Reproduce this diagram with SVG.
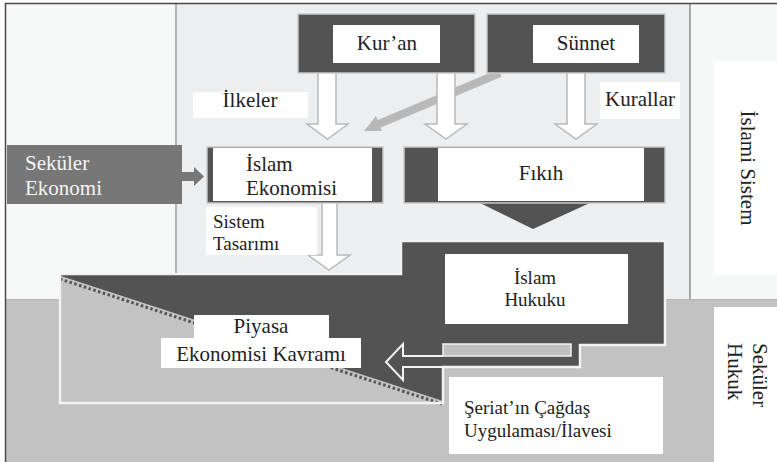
<svg xmlns="http://www.w3.org/2000/svg" width="777" height="462" viewBox="0 0 777 462">
<style>
  text{font-family:'Liberation Serif','Tinos','Times New Roman','DejaVu Serif',serif}
  .t{font-size:21px;fill:#222}
  .s{font-size:19px;fill:#222}
  .tw{font-size:21px;fill:#f4f4f4}
  .dark{fill:#535353;stroke:#c9c9c9;stroke-width:1.5}
  .lbl{fill:#ffffff}
  .hollow{fill:#ffffff;stroke:#b9b9b9;stroke-width:1.5;stroke-linejoin:miter}
</style>
<g id="background">
  <rect x="0" y="0" width="777" height="462" fill="#ffffff"/>
  <rect x="6" y="4" width="170" height="296" fill="#f7f8f8"/>
  <rect x="177" y="4" width="513" height="295" fill="#eceef0"/>
  <rect x="691" y="4" width="86" height="295" fill="#f6f7f7"/>
  <rect x="6" y="299" width="771" height="163" fill="#c2c2c2"/>
  <line x1="6" y1="299.5" x2="777" y2="299.5" stroke="#b4b4b4" stroke-width="1"/>
  <line x1="176" y1="4" x2="176" y2="299" stroke="#b3b3b3" stroke-width="2"/>
  <line x1="690" y1="4" x2="690" y2="299" stroke="#a8a8a8" stroke-width="2"/>
  <line x1="5" y1="3.5" x2="777" y2="3.5" stroke="#4a4a4a" stroke-width="1.5"/>
  <line x1="5.5" y1="3" x2="5.5" y2="462" stroke="#4a4a4a" stroke-width="1.5"/>
</g>
<g id="islami-sistem">
  <rect x="714" y="61" width="63" height="214" fill="#ffffff"/>
  <text class="t" transform="translate(741,168) rotate(90)" text-anchor="middle">İslami Sistem</text>
</g>
<g id="sekuler-hukuk">
  <rect x="714" y="307" width="63" height="155" fill="#ffffff"/>
  <text class="t" transform="translate(753,343) rotate(90)">Seküler</text>
  <text class="t" transform="translate(728,343) rotate(90)">Hukuk</text>
</g>
<g id="islam-hukuku">
  <path d="M60 274 H401 V241 H665 V345 H580 V367 H443 V403 H60 Z" fill="#535353"/>
  <polygon points="61,276 443,401 443,402 61,402" fill="#c3c3c3"/>
  <line x1="61" y1="277" x2="443" y2="402" stroke="#535353" stroke-width="3" stroke-dasharray="2.5 2.5" transform="translate(-1,2)"/>
  <path d="M60 274 H401 V241 H665 V345 H580 V367 H443 V403 H60 Z" fill="none" stroke="#f2f2f2" stroke-width="2.5"/>
  <rect class="lbl" x="445" y="254" width="183" height="70"/>
  <text class="s" x="535" y="284" text-anchor="middle">İslam</text>
  <text class="s" x="535" y="306" text-anchor="middle">Hukuku</text>
</g>
<g id="connectors">
  <line x1="500" y1="73" x2="374" y2="126" stroke="#b8b8b8" stroke-width="8"/>
  <polygon points="364,131 376,116 382,131" fill="#b8b8b8"/>
  <path class="hollow" d="M318 73 V124 H307 L327.5 139 L348 124 H336 V73"/>
  <path class="hollow" d="M437 73 V124 H425 L446 139 L467 124 H455 V73"/>
  <path class="hollow" d="M567 73 V124 H555 L576 139 L597 124 H585 V73"/>
  <path class="hollow" d="M322 203 V255 H308 L329 270 L350 255 H337 V203"/>
  <rect x="182" y="172" width="14" height="9" fill="#777777"/>
  <polygon points="194,167 204,176.5 194,186" fill="#777777"/>
  <polygon points="533,202 478,202 533,229 592,202" fill="#535353"/>
  <rect x="443" y="344" width="128" height="12" fill="#c0c0c0" stroke="#f2f2f2" stroke-width="1.5"/>
  <path d="M580 356 V367 H403 V380 L386 362 L403 344 V356 H443" fill="none" stroke="#f2f2f2" stroke-width="2"/>
</g>
<g id="kuran">
  <rect class="dark" x="298" y="14" width="177" height="59"/>
  <rect class="lbl" x="333" y="25" width="107" height="38"/>
  <text class="t" x="387" y="50" text-anchor="middle">Kur’an</text>
</g>
<g id="sunnet">
  <rect class="dark" x="487" y="14" width="178" height="59"/>
  <rect class="lbl" x="533" y="25" width="106" height="38"/>
  <text class="t" x="586" y="50" text-anchor="middle">Sünnet</text>
</g>
<g id="ilkeler">
  <rect class="lbl" x="193" y="92" width="115" height="26"/>
  <text class="t" x="250" y="107" text-anchor="middle">İlkeler</text>
</g>
<g id="kurallar">
  <rect class="lbl" x="600" y="82" width="80" height="37"/>
  <text class="t" x="640" y="106" text-anchor="middle">Kurallar</text>
</g>
<g id="sekuler-ekonomi">
  <rect x="7" y="145" width="175" height="59" fill="#777777"/>
  <text class="tw" x="25" y="170">Seküler</text>
  <text class="tw" x="25" y="195">Ekonomi</text>
</g>
<g id="islam-ekonomisi">
  <rect class="dark" x="207" y="147" width="176" height="56"/>
  <rect class="lbl" x="213" y="148" width="159" height="53"/>
  <text class="t" x="246" y="171">İslam</text>
  <text class="t" x="246" y="195">Ekonomisi</text>
</g>
<g id="fikih">
  <rect class="dark" x="404" y="147" width="261" height="56"/>
  <rect class="lbl" x="438" y="148" width="206" height="53"/>
  <text class="t" x="541" y="180" text-anchor="middle">Fıkıh</text>
</g>
<g id="sistem-tasarimi">
  <rect class="lbl" x="206" y="207" width="111" height="48"/>
  <text class="s" x="213" y="228">Sistem</text>
  <text class="s" x="213" y="250">Tasarımı</text>
</g>
<g id="piyasa">
  <rect class="lbl" x="194" y="315" width="135" height="24"/>
  <rect class="lbl" x="161" y="338" width="200" height="30"/>
  <text class="t" x="261" y="333" text-anchor="middle">Piyasa</text>
  <text class="t" x="261" y="361" text-anchor="middle">Ekonomisi Kavramı</text>
</g>
<g id="seriat">
  <rect class="lbl" x="449" y="377" width="214" height="77"/>
  <text class="s" x="464" y="414">Şeriat’ın Çağdaş</text>
  <text class="s" x="464" y="437">Uygulaması/İlavesi</text>
</g>
</svg>
